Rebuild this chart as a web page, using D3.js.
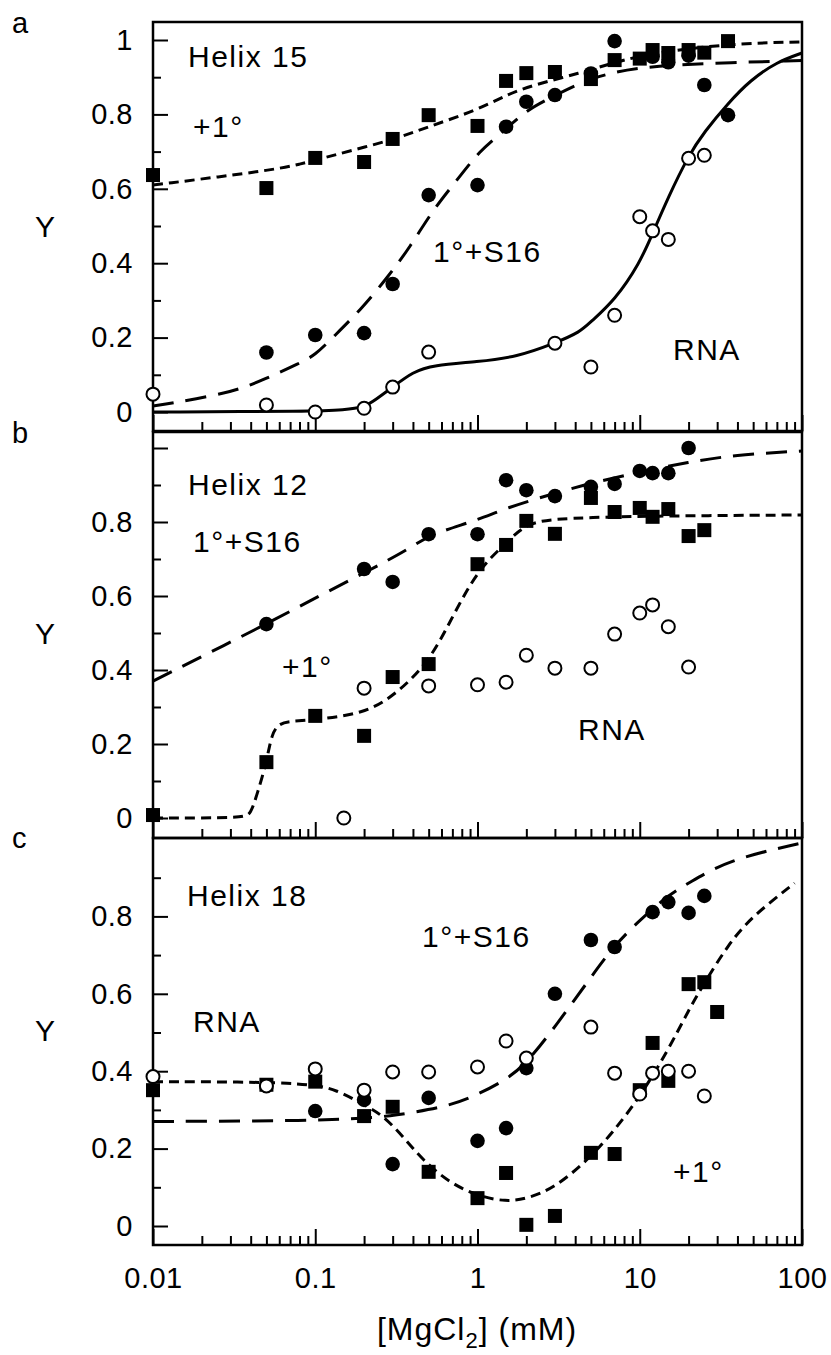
<!DOCTYPE html>
<html>
<head>
<meta charset="utf-8">
<script src="https://cdn.jsdelivr.net/npm/d3@7"></script>
<style>
  body { margin: 0; background: #fff; }
  text { font-family: "Liberation Sans", Arial, Helvetica, sans-serif; fill: #000; }
</style>
</head>
<body>
<div id="chart"></div>
<script>
// shared x axis
const xTickValues = [0.01, 0.1, 1, 10, 100];
const xTickLabels = ["0.01", "0.1", "1", "10", "100"];

// panel a - Helix 15 (points)
const aPlus1X = [0.01, 0.05, 0.1, 0.2, 0.3, 0.5, 1, 1.5, 2, 3, 5, 7, 10, 12, 15, 20, 25, 35];
const aPlus1Y = [0.637, 0.602, 0.683, 0.672, 0.734, 0.798, 0.769, 0.89, 0.911, 0.914, 0.895, 0.946, 0.95, 0.973, 0.965, 0.973, 0.966, 0.997];
const aS16X = [0.05, 0.1, 0.2, 0.3, 0.5, 1, 1.5, 2, 3, 5, 7, 12, 15, 20, 25, 35];
const aS16Y = [0.16, 0.207, 0.212, 0.344, 0.583, 0.61, 0.767, 0.834, 0.852, 0.91, 0.997, 0.955, 0.94, 0.958, 0.879, 0.798];
const aRnaX = [0.01, 0.05, 0.1, 0.2, 0.3, 0.5, 3, 5, 7, 10, 12, 15, 20, 25];
const aRnaY = [0.048, 0.019, 0, 0.01, 0.067, 0.161, 0.185, 0.121, 0.26, 0.525, 0.487, 0.464, 0.682, 0.69];
// panel a fitted curves
const aFitPlus1X = [0.01, 0.05, 0.08, 0.128, 0.3, 0.5, 1, 1.5, 2.2, 4.3, 7, 12, 35, 100];
const aFitPlus1Y = [0.61, 0.648, 0.665, 0.69, 0.731, 0.767, 0.812, 0.852, 0.879, 0.911, 0.94, 0.965, 0.99, 0.995];
const aFitS16X = [0.01, 0.03, 0.05, 0.08, 0.1, 0.128, 0.19, 0.28, 0.385, 0.53, 0.75, 1.04, 1.37, 2, 2.9, 5, 10, 25, 100];
const aFitS16Y = [0.016, 0.05, 0.09, 0.131, 0.153, 0.2, 0.274, 0.363, 0.444, 0.543, 0.624, 0.704, 0.745, 0.812, 0.847, 0.9, 0.928, 0.937, 0.945];
const aFitRnaX = [0.01, 0.1, 0.15, 0.2, 0.24, 0.3, 0.4, 0.53, 1, 1.75, 3, 4.3, 5, 7, 10, 12, 15, 20, 25, 35, 48, 70, 100];
const aFitRnaY = [0, 0.002, 0.006, 0.012, 0.036, 0.067, 0.108, 0.126, 0.135, 0.148, 0.185, 0.215, 0.243, 0.3, 0.4, 0.48, 0.578, 0.69, 0.753, 0.83, 0.892, 0.941, 0.965];

// panel b - Helix 12 (points)
const bS16X = [0.05, 0.2, 0.3, 0.5, 1, 1.5, 2, 3, 5, 7, 10, 12, 15, 20];
const bS16Y = [0.524, 0.673, 0.638, 0.767, 0.767, 0.913, 0.886, 0.87, 0.895, 0.903, 0.938, 0.932, 0.932, 1.0];
const bPlus1X = [0.01, 0.05, 0.1, 0.2, 0.3, 0.5, 1, 1.5, 2, 3, 5, 7, 10, 12, 15, 20, 25];
const bPlus1Y = [0.008, 0.151, 0.276, 0.222, 0.381, 0.416, 0.686, 0.738, 0.803, 0.768, 0.865, 0.827, 0.838, 0.814, 0.835, 0.762, 0.778];
const bRnaX = [0.15, 0.2, 0.5, 1, 1.5, 2, 3, 5, 7, 10, 12, 15, 20];
const bRnaY = [0, 0.351, 0.357, 0.36, 0.367, 0.44, 0.405, 0.405, 0.497, 0.554, 0.576, 0.517, 0.408];
// panel b fitted curves
const bFitS16X = [0.01, 0.05, 0.1, 0.2, 0.39, 0.5, 1, 1.5, 3, 5, 10, 20, 38, 100];
const bFitS16Y = [0.37, 0.524, 0.595, 0.662, 0.73, 0.765, 0.805, 0.838, 0.878, 0.905, 0.935, 0.962, 0.981, 0.992];
const bFitPlus1X = [0.01, 0.036, 0.04, 0.044, 0.05, 0.054, 0.06, 0.07, 0.1, 0.2, 0.3, 0.5, 0.7, 1, 1.5, 2, 3, 5, 10, 100];
const bFitPlus1Y = [0, 0, 0.01, 0.067, 0.149, 0.23, 0.255, 0.262, 0.265, 0.283, 0.327, 0.419, 0.543, 0.67, 0.743, 0.797, 0.808, 0.812, 0.816, 0.819];

// panel c - Helix 18 (points)
const cS16X = [0.1, 0.2, 0.3, 0.5, 1, 1.5, 2, 3, 5, 7, 12, 15, 20, 25];
const cS16Y = [0.297, 0.326, 0.16, 0.331, 0.22, 0.253, 0.408, 0.6, 0.739, 0.721, 0.811, 0.837, 0.809, 0.853];
const cPlus1X = [0.01, 0.05, 0.1, 0.2, 0.3, 0.5, 1, 1.5, 2, 3, 5, 7, 10, 12, 15, 20, 25, 30];
const cPlus1Y = [0.351, 0.365, 0.373, 0.284, 0.308, 0.14, 0.072, 0.137, 0.003, 0.026, 0.189, 0.186, 0.351, 0.473, 0.375, 0.625, 0.63, 0.553];
const cRnaX = [0.01, 0.05, 0.1, 0.2, 0.3, 0.5, 1, 1.5, 2, 5, 7, 10, 12, 15, 20, 25];
const cRnaY = [0.386, 0.362, 0.406, 0.351, 0.398, 0.398, 0.411, 0.478, 0.434, 0.514, 0.395, 0.341, 0.395, 0.4, 0.4, 0.336];
// panel c fitted curves
const cFitPlus1X = [0.01, 0.09, 0.137, 0.2, 0.26, 0.35, 0.46, 0.68, 1.03, 1.5, 2, 3, 5, 7, 10, 15, 20, 25, 35, 48, 90];
const cFitPlus1Y = [0.373, 0.372, 0.351, 0.313, 0.287, 0.23, 0.17, 0.11, 0.076, 0.063, 0.07, 0.098, 0.178, 0.248, 0.333, 0.455, 0.558, 0.628, 0.726, 0.796, 0.886];
const cFitS16X = [0.01, 0.103, 0.2, 0.29, 0.42, 0.62, 0.9, 1.5, 2, 3, 5, 7, 10, 15, 20, 35, 100];
const cFitS16Y = [0.27, 0.272, 0.279, 0.284, 0.295, 0.308, 0.33, 0.377, 0.42, 0.514, 0.643, 0.726, 0.79, 0.855, 0.886, 0.946, 0.99];

const zip = (xs, ys) => xs.map((x, i) => ({ x: x, y: ys[i] }));

const width = 831, height = 1355;
const frameLeft = 153, frameRight = 802;

const panels = [
  { letter: "a", top: 22, bottom: 431, y0: 412, y1: 40,
    majors: [0, 0.2, 0.4, 0.6, 0.8, 1], labels: ["0", "0.2", "0.4", "0.6", "0.8", "1"],
    minors: [0.1, 0.3, 0.5, 0.7, 0.9],
    plus1: zip(aPlus1X, aPlus1Y), s16: zip(aS16X, aS16Y), rna: zip(aRnaX, aRnaY),
    fitPlus1: zip(aFitPlus1X, aFitPlus1Y), fitS16: zip(aFitS16X, aFitS16Y), fitRna: zip(aFitRnaX, aFitRnaY),
    letterY: 33, yLabelY: 237,
    notes: [["Helix 15", 188, 67], ["+1°", 193, 137], ["1°+S16", 433, 262], ["RNA", 673, 360]] },
  { letter: "b", top: 432, bottom: 838, y0: 818, y1: 448,
    majors: [0, 0.2, 0.4, 0.6, 0.8, 1], labels: ["0", "0.2", "0.4", "0.6", "0.8", ""],
    minors: [0.1, 0.3, 0.5, 0.7, 0.9],
    plus1: zip(bPlus1X, bPlus1Y), s16: zip(bS16X, bS16Y), rna: zip(bRnaX, bRnaY),
    fitPlus1: zip(bFitPlus1X, bFitPlus1Y), fitS16: zip(bFitS16X, bFitS16Y), fitRna: null,
    letterY: 443, yLabelY: 644,
    notes: [["Helix 12", 188, 495], ["1°+S16", 193, 552], ["+1°", 282, 677], ["RNA", 578, 740]] },
  { letter: "c", top: 838, bottom: 1245, y0: 1226, y1: 839,
    majors: [0, 0.2, 0.4, 0.6, 0.8], labels: ["0", "0.2", "0.4", "0.6", "0.8"],
    minors: [0.1, 0.3, 0.5, 0.7, 0.9],
    plus1: zip(cPlus1X, cPlus1Y), s16: zip(cS16X, cS16Y), rna: zip(cRnaX, cRnaY),
    fitPlus1: zip(cFitPlus1X, cFitPlus1Y), fitS16: zip(cFitS16X, cFitS16Y), fitRna: null,
    letterY: 848, yLabelY: 1041,
    notes: [["Helix 18", 187, 906], ["RNA", 193, 1032], ["1°+S16", 422, 947], ["+1°", 673, 1182]] }
];

const svg = d3.select("#chart").append("svg")
  .attr("width", width)
  .attr("height", height);

const x = d3.scaleLog().domain([0.01, 100]).range([frameLeft, frameRight]);

// minor x ticks: 2..9 in every decade
const xMinor = [];
[0.01, 0.1, 1, 10].forEach(d => { for (let k = 2; k <= 9; k++) xMinor.push(d * k); });

panels.forEach((p, pi) => {
  const y = d3.scaleLinear().domain([0, 1]).range([p.y0, p.y1]);
  const g = svg.append("g");

  // curves first, markers on top
  const line = d3.line().x(d => x(d.x)).y(d => y(d.y)).curve(d3.curveBasis);
  const curves = [
    { data: p.fitPlus1, dash: "10,6" },
    { data: p.fitS16, dash: "21,12" },
    { data: p.fitRna, dash: null }
  ];
  curves.forEach(c => {
    if (!c.data) return;
    g.append("path")
      .datum(c.data)
      .attr("d", line)
      .attr("fill", "none")
      .attr("stroke", "#000")
      .attr("stroke-width", 3)
      .attr("stroke-dasharray", c.dash);
  });

  // frame
  g.append("rect")
    .attr("x", frameLeft)
    .attr("y", p.top)
    .attr("width", frameRight - frameLeft)
    .attr("height", p.bottom - p.top)
    .attr("fill", "none")
    .attr("stroke", "#000")
    .attr("stroke-width", 2.5);

  // Y axis (ticks pointing inward)
  g.append("g")
    .attr("transform", "translate(" + frameLeft + ",0)")
    .call(d3.axisLeft(y).tickValues(p.majors).tickSize(-15).tickPadding(20)
      .tickFormat((d, i) => p.labels[i]));
  g.append("g")
    .attr("transform", "translate(" + frameLeft + ",0)")
    .call(d3.axisLeft(y).tickValues(p.minors).tickSize(-8).tickFormat(""));

  // X axis at panel bottom
  g.append("g")
    .attr("transform", "translate(0," + p.bottom + ")")
    .call(d3.axisBottom(x).tickValues(xTickValues).tickSize(-16).tickPadding(22)
      .tickFormat((d, i) => pi === 2 ? xTickLabels[i] : ""));
  g.append("g")
    .attr("transform", "translate(0," + p.bottom + ")")
    .call(d3.axisBottom(x).tickValues(xMinor).tickSize(-9).tickFormat(""));

  g.selectAll(".domain").remove();
  g.selectAll(".tick line").attr("stroke", "#000").attr("stroke-width", 2);
  g.selectAll(".tick text")
    .attr("fill", "#000")
    .style("font-size", "29px")
    .style("letter-spacing", "0.5px")
    .style("font-family", "'Liberation Sans', Arial, Helvetica, sans-serif");

  // markers: squares (+1°), filled circles (1°+S16), open circles (RNA)
  const sq = 14;
  g.selectAll(".sq").data(p.plus1).enter().append("rect")
    .attr("x", d => x(d.x) - sq / 2)
    .attr("y", d => y(d.y) - sq / 2)
    .attr("width", sq).attr("height", sq)
    .attr("fill", "#000");
  g.selectAll(".fc").data(p.s16).enter().append("circle")
    .attr("cx", d => x(d.x)).attr("cy", d => y(d.y))
    .attr("r", 7.3)
    .attr("fill", "#000");
  g.selectAll(".oc").data(p.rna).enter().append("circle")
    .attr("cx", d => x(d.x)).attr("cy", d => y(d.y))
    .attr("r", 6.5)
    .attr("fill", "#fff")
    .attr("stroke", "#000")
    .attr("stroke-width", 2);

  // annotations
  p.notes.forEach(n => {
    g.append("text")
      .attr("x", n[1]).attr("y", n[2])
      .style("font-size", "30px")
      .style("letter-spacing", "1.5px")
      .text(n[0]);
  });

  // panel letter and Y label
  g.append("text")
    .attr("x", 12).attr("y", p.letterY)
    .style("font-size", "29px")
    .text(p.letter);
  g.append("text")
    .attr("x", 45).attr("y", p.yLabelY)
    .attr("text-anchor", "middle")
    .style("font-size", "30px")
    .text("Y");
});

// x axis title
const title = svg.append("text")
  .attr("x", 477).attr("y", 1340)
  .attr("text-anchor", "middle")
  .style("font-size", "32px")
  .style("letter-spacing", "1px");
title.append("tspan").text("[MgCl");
title.append("tspan").attr("dy", 8).style("font-size", "22px").text("2");
title.append("tspan").attr("dy", -8).text("] (mM)");
</script>
</body>
</html>
